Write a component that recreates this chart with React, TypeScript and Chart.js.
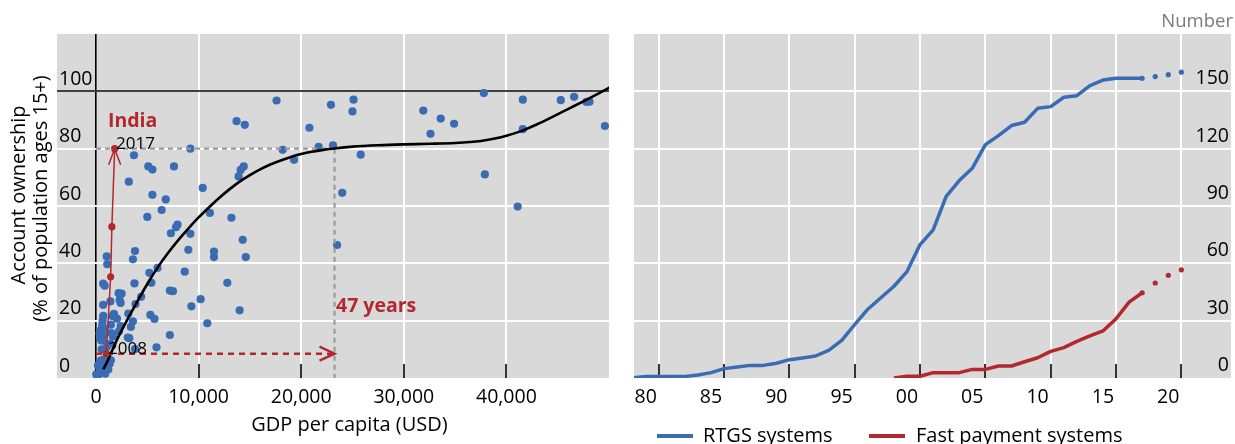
import React, { useEffect, useRef } from 'react';
import { Chart, registerables } from 'chart.js';

Chart.register(...registerables);

const FONT = "'Open Sans', 'Noto Sans', 'DejaVu Sans', sans-serif";
const BLUE = '#3a6cb4';
const RED = '#b3282d';
const PANEL_BG = '#d9d9d9';

// ---------- Left panel: account ownership vs GDP per capita ----------
const gdpPerCapita = [
  17600, 22900, 25100, 25000, 31900, 37800, 41600, 45300, 46600, 47800, 48100, 49600,
  13700, 14500, 20800, 33600, 34900, 32600, 41600,
  9200, 18200, 21700, 23100, 25800, 19300,
  3700, 5100, 5500, 7600, 13900, 14100, 14400, 37900,
  3200, 10400, 5500, 6800, 24000, 41100,
  6400, 5000, 11100, 13200, 7950, 7800, 7300, 9200, 14300, 23500,
  9000, 11500, 11500, 14600, 3800, 3600, 1050, 1100,
  6000, 5200, 8650, 5400, 3750, 12800, 700, 850,
  2200, 2500, 2300, 2400, 7200, 7500, 10200, 4400, 1400, 3850, 9300, 14000, 700,
  3150, 5300, 5700, 10850, 1750, 1600, 700, 650, 600, 2050, 2400, 3600, 3400,
  450, 1450, 1500, 750, 7200, 3250, 650, 5900, 3800, 1050, 550, 1450, 850,
  2240, 350, 400, 840, 3100, 1650, 500, 1400, 500, 840, 1330, 200, 420, 740, 1170, 300, 30, 600, 150, 900, 1200,
];
const accountOwnership = [
  96.8, 95.3, 97.1, 93.0, 93.3, 99.4, 97.1, 96.9, 98.1, 96.3, 96.4, 87.9,
  89.6, 88.3, 87.3, 90.5, 88.7, 85.2, 86.8,
  80.0, 79.6, 80.6, 81.2, 77.9, 76.1,
  77.7, 73.8, 72.7, 73.8, 70.3, 72.6, 73.8, 71.0,
  68.5, 66.3, 63.9, 62.3, 64.6, 59.8,
  58.6, 56.2, 57.6, 55.9, 53.5, 52.6, 50.5, 50.3, 48.2, 46.4,
  44.7, 44.1, 42.2, 42.2, 44.3, 41.4, 42.4, 39.7,
  38.4, 36.7, 37.1, 33.2, 33.0, 33.2, 32.9, 32.2,
  29.6, 29.4, 27.2, 26.2, 30.5, 30.3, 27.5, 28.3, 26.7, 25.8, 25.0, 23.6, 25.5,
  22.5, 22.0, 20.6, 19.1, 22.4, 21.6, 21.7, 20.0, 18.5, 20.7, 18.1, 19.8, 17.8,
  16.6, 18.6, 15.7, 14.9, 15.0, 13.9, 13.1, 10.7, 10.1, 10.8, 10.0, 6.2, 6.7,
  16.3, 15.5, 14.3, 17.2, 14.1, 14.5, 13.1, 12.0, 6.2, 5.0, 5.0, 4.4, 3.3, 2.4, 5.9, 1.5, 1.3, 4.0, 0.5, 1.5, 3.0,
];

const fitGdp = [700, 1000, 2000, 3000, 4000, 5000, 6000, 7000, 8000, 9000, 10000, 11000, 12000, 13000, 14000, 15000, 16000, 17000, 18000, 19000, 20000, 21000, 22000, 23000, 25000, 27500, 30000, 32500, 35000, 37500, 39000, 40000, 41500, 43000, 44500, 46000, 47500, 49000, 50300];
const fitAccount = [3, 5, 13, 20, 26.5, 32.8, 38.5, 43.5, 48, 52.1, 56, 59.5, 62.8, 65.8, 68.5, 70.8, 72.8, 74.5, 75.9, 77.1, 78.1, 78.9, 79.5, 80.0, 80.7, 81.2, 81.5, 81.7, 82.0, 82.7, 83.6, 84.5, 86.2, 88.5, 91.1, 93.8, 96.5, 99.3, 101.8];

const indiaGdp = [1000, 1430, 1550, 1820];
const indiaAccount = [8.5, 35.3, 52.8, 80];
const indiaYears = ['2008', '2017'];
const benchmarkGdp = 23250;

const xTicksLeft = [0, 10000, 20000, 30000, 40000];
const yTicksLeft = [0, 20, 40, 60, 80, 100];

// ---------- Right panel: number of systems ----------
const years = [1979, 1980, 1981, 1982, 1983, 1984, 1985, 1986, 1987, 1988, 1989, 1990, 1991, 1992, 1993, 1994, 1995, 1996, 1997, 1998, 1999, 2000, 2001, 2002, 2003, 2004, 2005, 2006, 2007, 2008, 2009, 2010, 2011, 2012, 2013, 2014, 2015, 2016, 2017, 2018];
const rtgs = [0, 0.8, 0.8, 0.8, 0.8, 1.6, 2.8, 4.9, 5.7, 6.6, 6.6, 7.7, 9.6, 10.5, 11.5, 14.5, 19.7, 28.0, 36.0, 42.0, 48.0, 55.7, 69.8, 77.5, 95.0, 103.3, 109.8, 122.1, 126.8, 132.1, 133.8, 141.1, 142.0, 146.9, 147.7, 153.0, 155.9, 156.8, 156.8, 156.8];
const fastYears = [1999, 2000, 2001, 2002, 2003, 2004, 2005, 2006, 2007, 2008, 2009, 2010, 2011, 2012, 2013, 2014, 2015, 2016, 2017, 2018];
const fastPayments = [0, 0.9, 0.9, 2.8, 2.8, 2.8, 4.5, 4.5, 6.3, 6.3, 8.5, 10.6, 13.9, 15.9, 19.2, 22.0, 24.6, 31.0, 39.7, 44.6];
const projYears = [2018, 2019, 2020, 2021];
const rtgsProjected = [156.8, 157.7, 158.7, 160.0];
const fastProjected = [44.6, 49.7, 53.7, 56.6];

const xGridRight = [1981, 1986, 1991, 1996, 2001, 2006, 2011, 2016, 2021];
const xLabelsRight = ['80', '85', '90', '95', '00', '05', '10', '15', '20'];
const yTicksRight = [0, 30, 60, 90, 120, 150];

const seriesNames = ['RTGS systems', 'Fast payment systems'];

const zip = (xs: number[], ys: number[]) => xs.map((x, i) => ({ x, y: ys[i] }));

const bgPlugin = {
  id: 'panelBg',
  beforeDraw(chart: any) {
    const { ctx, chartArea } = chart;
    ctx.save();
    ctx.fillStyle = PANEL_BG;
    ctx.fillRect(chartArea.left, chartArea.top, chartArea.right - chartArea.left, chartArea.bottom - chartArea.top);
    ctx.restore();
  },
};

function drawInnerTicks(chart: any, values: number[]) {
  const { ctx, chartArea, scales } = chart;
  ctx.save();
  ctx.strokeStyle = '#000';
  ctx.lineWidth = 1.6;
  values.forEach((v) => {
    const px = Math.round(scales.x.getPixelForValue(v));
    ctx.beginPath();
    ctx.moveTo(px, chartArea.bottom);
    ctx.lineTo(px, chartArea.bottom - 14);
    ctx.stroke();
  });
  ctx.restore();
}

const leftPlugin = {
  id: 'leftAnnotations',
  beforeDatasetsDraw(chart: any) {
    drawInnerTicks(chart, xTicksLeft.filter((v) => v !== 0));
  },
  afterDatasetsDraw(chart: any) {
    const { ctx, scales } = chart;
    const { x, y } = scales;
    ctx.save();
    const n = indiaGdp.length - 1;
    const tx = x.getPixelForValue(indiaGdp[n]);
    const ty = y.getPixelForValue(indiaAccount[n]);
    ctx.strokeStyle = RED;
    ctx.lineWidth = 1.5;
    ctx.beginPath();
    ctx.moveTo(tx - 6, ty + 16);
    ctx.lineTo(tx, ty);
    ctx.lineTo(tx + 6, ty + 16);
    ctx.stroke();
    const ax = x.getPixelForValue(benchmarkGdp);
    const ay = y.getPixelForValue(indiaAccount[0]);
    ctx.lineWidth = 2.5;
    ctx.beginPath();
    ctx.moveTo(ax - 15, ay - 7);
    ctx.lineTo(ax, ay);
    ctx.lineTo(ax - 15, ay + 7);
    ctx.stroke();

    ctx.textBaseline = 'alphabetic';
    ctx.textAlign = 'left';
    ctx.fillStyle = RED;
    ctx.font = `bold 19.5px ${FONT}`;
    ctx.fillText('India', 108, 126.5);
    ctx.fillText('47 years', 336, 311.5);
    ctx.fillStyle = '#000';
    ctx.font = `17px ${FONT}`;
    ctx.fillText(indiaYears[1], 116, 149.3);
    ctx.fillText(indiaYears[0], 108, 354);

    ctx.font = `20px ${FONT}`;
    ctx.textAlign = 'center';
    ctx.fillText('GDP per capita (USD)', 349.5, 431);
    ctx.textBaseline = 'middle';
    ctx.save();
    ctx.translate(19, 195);
    ctx.rotate(-Math.PI / 2);
    ctx.fillText('Account ownership', 0, 0);
    ctx.restore();
    ctx.save();
    ctx.translate(41, 198.5);
    ctx.rotate(-Math.PI / 2);
    ctx.fillText('(% of population ages 15+)', 0, 0);
    ctx.restore();
    ctx.restore();
  },
};

const rightPlugin = {
  id: 'rightAnnotations',
  beforeDatasetsDraw(chart: any) {
    drawInnerTicks(chart, xGridRight);
  },
  afterDraw(chart: any) {
    const { ctx } = chart;
    ctx.save();
    ctx.font = `18.5px ${FONT}`;
    ctx.fillStyle = '#7a7a7a';
    ctx.textAlign = 'right';
    ctx.textBaseline = 'alphabetic';
    ctx.fillText('Number', 613, 27.3);
    ctx.fillStyle = BLUE;
    ctx.fillRect(37, 434, 36, 4);
    ctx.fillStyle = RED;
    ctx.fillRect(249, 434, 36, 4);
    ctx.fillStyle = '#000';
    ctx.textAlign = 'left';
    ctx.font = `20px ${FONT}`;
    ctx.fillText(seriesNames[0], 83, 441.7);
    ctx.fillText(seriesNames[1], 296, 441.7);
    ctx.restore();
  },
};

const tickFont = { family: FONT, size: 19.5 };

export default function App() {
  const leftRef = useRef<HTMLCanvasElement>(null);
  const rightRef = useRef<HTMLCanvasElement>(null);

  useEffect(() => {
    document.body.style.margin = '0';
    const left = new Chart(leftRef.current as HTMLCanvasElement, {
      type: 'scatter',
      data: {
        datasets: [
          {
            label: 'India',
            data: zip(indiaGdp, indiaAccount),
            showLine: true,
            borderColor: RED,
            borderWidth: 1.5,
            backgroundColor: RED,
            pointRadius: 3.6,
            pointBorderWidth: 0,
            order: 1,
          },
          {
            label: 'India 2008 to benchmark',
            data: [{ x: 0, y: indiaAccount[0] }, { x: benchmarkGdp, y: indiaAccount[0] }],
            showLine: true,
            borderColor: RED,
            borderWidth: 2.5,
            borderDash: [6, 5],
            pointRadius: 0,
            order: 2,
          },
          {
            label: 'Fit',
            data: zip(fitGdp, fitAccount),
            showLine: true,
            borderColor: '#000',
            borderWidth: 2.6,
            pointRadius: 0,
            cubicInterpolationMode: 'monotone',
            order: 3,
          },
          {
            label: 'Benchmark horizontal',
            data: [{ x: 0, y: indiaAccount[3] }, { x: benchmarkGdp, y: indiaAccount[3] }],
            showLine: true,
            borderColor: '#9b9b9b',
            borderWidth: 2.2,
            borderDash: [5, 4],
            pointRadius: 0,
            order: 4,
          },
          {
            label: 'Benchmark vertical',
            data: [{ x: benchmarkGdp, y: indiaAccount[3] }, { x: benchmarkGdp, y: 0 }],
            showLine: true,
            borderColor: '#9b9b9b',
            borderWidth: 2.2,
            borderDash: [5, 4],
            pointRadius: 0,
            order: 4,
          },
          {
            label: 'Countries',
            data: zip(gdpPerCapita, accountOwnership),
            backgroundColor: BLUE,
            pointRadius: 4.1,
            pointBorderWidth: 0,
            order: 5,
          },
        ],
      },
      options: {
        animation: false,
        responsive: false,
        devicePixelRatio: 1,
        layout: { padding: { left: 57, right: 11, top: 34, bottom: 8 } },
        plugins: { legend: { display: false }, tooltip: { enabled: false } },
        scales: {
          x: {
            type: 'linear',
            min: -3800,
            max: 50000,
            afterBuildTicks: (s: any) => { s.ticks = xTicksLeft.map((v) => ({ value: v })); },
            afterFit: (s: any) => { s.height = 58; },
            border: { display: false },
            grid: {
              drawTicks: false,
              color: (c: any) => (c.tick && c.tick.value === 0 ? '#000' : '#ffffff'),
              lineWidth: (c: any) => (c.tick && c.tick.value === 0 ? 1.6 : 2),
            },
            ticks: {
              padding: 8,
              color: '#000',
              font: tickFont,
              autoSkip: false,
              maxRotation: 0,
              callback: (v: any) => Number(v).toLocaleString('en-US'),
            },
          },
          y: {
            type: 'linear',
            position: 'left',
            min: 0,
            max: 120,
            afterBuildTicks: (s: any) => { s.ticks = yTicksLeft.map((v) => ({ value: v })); },
            afterFit: (s: any) => { s.width = 0; },
            border: { display: false },
            grid: {
              drawTicks: false,
              color: (c: any) => (c.tick && c.tick.value === 100 ? '#404040' : c.tick && c.tick.value === 0 ? 'rgba(0,0,0,0)' : '#ffffff'),
              lineWidth: 2,
            },
            ticks: {
              mirror: true,
              padding: 2,
              labelOffset: -12,
              color: '#000',
              font: tickFont,
              autoSkip: false,
              callback: (v: any) => String(v),
            },
          },
        },
      },
      plugins: [bgPlugin, leftPlugin],
    } as any);

    const right = new Chart(rightRef.current as HTMLCanvasElement, {
      type: 'scatter',
      data: {
        datasets: [
          {
            label: seriesNames[0],
            data: zip(years, rtgs),
            showLine: true,
            borderColor: BLUE,
            borderWidth: 3.5,
            pointRadius: 0,
            borderJoinStyle: 'round',
          },
          {
            label: seriesNames[0] + ' (latest)',
            data: zip(projYears, rtgsProjected),
            backgroundColor: BLUE,
            pointRadius: 2.6,
            pointBorderWidth: 0,
          },
          {
            label: seriesNames[1],
            data: zip(fastYears, fastPayments),
            showLine: true,
            borderColor: RED,
            borderWidth: 3.5,
            pointRadius: 0,
            borderJoinStyle: 'round',
          },
          {
            label: seriesNames[1] + ' (latest)',
            data: zip(projYears, fastProjected),
            backgroundColor: RED,
            pointRadius: 2.6,
            pointBorderWidth: 0,
          },
        ],
      },
      options: {
        animation: false,
        responsive: false,
        devicePixelRatio: 1,
        layout: { padding: { left: 14, right: 0, top: 34, bottom: 8 } },
        plugins: { legend: { display: false }, tooltip: { enabled: false } },
        scales: {
          x: {
            type: 'linear',
            min: 1979.1,
            max: 2024.8,
            afterBuildTicks: (s: any) => { s.ticks = xGridRight.map((v) => ({ value: v })); },
            afterFit: (s: any) => { s.height = 58; },
            border: { display: false },
            grid: { drawTicks: false, color: '#ffffff', lineWidth: 2 },
            ticks: {
              padding: 8,
              labelOffset: -13.15,
              color: '#000',
              font: tickFont,
              autoSkip: false,
              maxRotation: 0,
              callback: (_v: any, i: number) => xLabelsRight[i],
            },
          },
          y: {
            type: 'linear',
            position: 'right',
            min: 0,
            max: 180,
            afterBuildTicks: (s: any) => { s.ticks = yTicksRight.map((v) => ({ value: v })); },
            afterFit: (s: any) => { s.width = 0; },
            border: { display: false },
            grid: {
              drawTicks: false,
              color: (c: any) => (c.tick && c.tick.value === 0 ? 'rgba(0,0,0,0)' : '#ffffff'),
              lineWidth: 2,
            },
            ticks: {
              mirror: true,
              padding: -2,
              labelOffset: -12.5,
              color: '#000',
              font: tickFont,
              autoSkip: false,
              callback: (v: any) => String(v),
            },
          },
        },
      },
      plugins: [bgPlugin, rightPlugin],
    } as any);

    return () => {
      left.destroy();
      right.destroy();
    };
  }, []);

  return (
    <div style={{ position: 'relative', width: 1235, height: 444, background: '#fff', overflow: 'hidden' }}>
      <canvas ref={leftRef} width={620} height={444} style={{ position: 'absolute', left: 0, top: 0, width: 620, height: 444 }} />
      <canvas ref={rightRef} width={615} height={444} style={{ position: 'absolute', left: 620, top: 0, width: 615, height: 444 }} />
    </div>
  );
}
